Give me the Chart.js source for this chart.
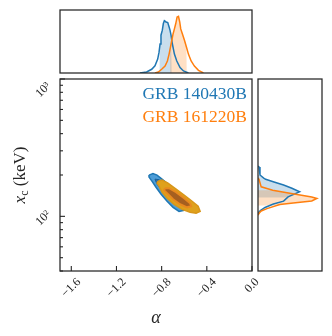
<!DOCTYPE html>
<html><head><meta charset="utf-8">
<script src="https://cdn.jsdelivr.net/npm/chart.js@4.4.0/dist/chart.umd.min.js"></script>
<style>
body{margin:0;background:#fff}
#wrap{position:relative;width:332px;height:336px}
canvas{position:absolute;left:0;top:0}
</style></head><body>
<div id="wrap">
<canvas id="top" width="332" height="336"></canvas>
<canvas id="side" width="332" height="336"></canvas>
<canvas id="main" width="332" height="336"></canvas>
</div>
<script>
// names + colours of the two bursts
const grbNames = ['GRB 140430B', 'GRB 161220B'];
const blue = '#1f77b4', orange = '#ff7f0e';

// top marginal: alpha posterior (normalised height)
const alphaBlue = [-0.992,-0.933,-0.888,-0.859,-0.835,-0.823,-0.814,-0.806,-0.794,-0.785,-0.776,-0.761,-0.746,-0.734,-0.726,-0.717,-0.705,-0.687,-0.666,-0.637,-0.607,-0.563];
const alphaBlueDens = [0,0.016,0.059,0.113,0.22,0.33,0.46,0.6,0.68,0.785,0.83,0.81,0.8,0.73,0.68,0.6,0.46,0.3,0.19,0.086,0.032,0];
const alphaOrange = [-0.859,-0.829,-0.8,-0.77,-0.749,-0.734,-0.722,-0.71,-0.699,-0.687,-0.675,-0.663,-0.651,-0.64,-0.631,-0.616,-0.598,-0.58,-0.563,-0.539,-0.51,-0.474,-0.43];
const alphaOrangeDens = [0,0.016,0.06,0.11,0.19,0.3,0.41,0.52,0.62,0.7,0.785,0.89,0.9,0.81,0.7,0.62,0.52,0.41,0.3,0.19,0.11,0.043,0];
const alphaBandBlue = [-0.82, -0.71];
const alphaBandOrange = [-0.726, -0.577];

// right marginal: xc posterior (keV)
const xcBlue = [232,229,200,190,186,178,169,160,151,144,138.5,129,123,116,110.6,107.5,104];
const xcBlueDens = [0,0.016,0.031,0.09,0.12,0.25,0.4,0.53,0.65,0.55,0.47,0.4,0.24,0.11,0.042,0.016,0];
const xcOrange = [190,185.7,164,155,146.5,138.5,134.9,129.5,125.1,121.9,113.8,109.4,105.7,102];
const xcOrangeDens = [0,0.016,0.05,0.23,0.52,0.84,0.92,0.84,0.55,0.34,0.14,0.05,0.02,0];
const xcBandBlue = [137, 200];
const xcBandOrange = [120, 155];

// joint contours
const blueOuterAlpha = [-0.912,-0.877,-0.841,-0.797,-0.744,-0.681,-0.619,-0.575,-0.566,-0.601,-0.646,-0.699,-0.752,-0.805,-0.85,-0.886,-0.912];
const blueOuterXc = [199.7,204.8,199.7,186.6,171.5,155,140,128.8,118.4,110.6,108.7,116.3,128.8,144.9,162.8,180.3,193.2];
const blueInnerAlpha = [-0.859,-0.824,-0.761,-0.699,-0.646,-0.637,-0.672,-0.734,-0.797,-0.841];
const blueInnerXc = [186.6,185,168.6,150,133.2,124.5,124.5,137.8,155,171.5];
const orangeOuterAlpha = [-0.832,-0.797,-0.744,-0.672,-0.601,-0.53,-0.477,-0.459,-0.495,-0.548,-0.619,-0.69,-0.752,-0.797,-0.823,-0.841];
const orangeOuterXc = [180.3,183.6,174.6,157.8,142.6,128.8,118.4,108.7,105.2,107,112.4,122.4,135.5,150,166,174.6];
const orangeInnerAlpha = [-0.77,-0.735,-0.672,-0.601,-0.548,-0.539,-0.575,-0.637,-0.699,-0.752,-0.779];
const orangeInnerXc = [160.4,160.4,150,135.5,124.5,118.4,116.3,122.4,133.2,147.3,155];

// ticks
const xTicks = [-1.6, -1.2, -0.8, -0.4, 0.0];
const xTickLabels = ['\u22121.6', '\u22121.2', '\u22120.8', '\u22120.4', '0.0'];
const yMajor = [100, 1000];
const yMajorLabels = ['10\u00b2', '10\u00b3'];
const yMinor = [40,50,60,70,80,90,200,300,400,500,600,700,800,900];

const serif = '"Liberation Serif", "DejaVu Serif", serif';
const ink = '#262626';

function pts(xs, ys) { return xs.map((x, i) => ({x: x, y: ys[i]})); }
function poly(xs, ys) { const p = pts(xs, ys); p.push(p[0]); return p; }

function topBand(xs, ds, lo, hi) {
  const p = [];
  xs.forEach((x, i) => { if (x >= lo && x <= hi) p.push({x: x, y: ds[i]}); });
  return [{x: lo, y: 0}, {x: lo, y: p[0].y}].concat(p, [{x: hi, y: p[p.length - 1].y}, {x: hi, y: 0}]);
}
function sideBand(ys, ds, lo, hi) {
  const p = [];
  ys.forEach((y, i) => { if (y >= lo && y <= hi) p.push({x: ds[i], y: y}); });
  return [{x: 0, y: hi}, {x: p[0].x, y: hi}].concat(p, [{x: p[p.length - 1].x, y: lo}, {x: 0, y: lo}, {x: 0, y: hi}]);
}

function frame(extra) {
  return {
    id: 'frame',
    afterDatasetsDraw(chart) {
      const a = chart.chartArea, ctx = chart.ctx;
      ctx.save();
      if (extra) extra(chart, ctx, a);
      ctx.strokeStyle = ink; ctx.lineWidth = 1.25;
      ctx.strokeRect(a.left, a.top, a.right - a.left, a.bottom - a.top);
      ctx.restore();
    }
  };
}

function seg(ctx, x1, y1, x2, y2) { ctx.beginPath(); ctx.moveTo(x1, y1); ctx.lineTo(x2, y2); ctx.stroke(); }

function rotLabel(ctx, txt, cx, cy) {
  ctx.save(); ctx.translate(cx, cy); ctx.rotate(-Math.PI / 4);
  ctx.textAlign = 'center'; ctx.textBaseline = 'middle';
  ctx.fillText(txt, 0, 0); ctx.restore();
}

function mainDecor(chart, ctx, a) {
  const xs = chart.scales.x, ys = chart.scales.y;
  ctx.strokeStyle = ink; ctx.lineWidth = 1.1;
  xTicks.forEach(v => { const px = xs.getPixelForValue(v); seg(ctx, px, a.bottom, px, a.bottom - 5); });
  yMajor.forEach(v => { const py = ys.getPixelForValue(v); seg(ctx, a.left, py, a.left + 5, py); });
  yMinor.forEach(v => { const py = ys.getPixelForValue(v); seg(ctx, a.left, py, a.left + 3, py); });

  ctx.fillStyle = ink; ctx.font = '12px ' + serif;
  xTicks.forEach((v, i) => {
    const w = ctx.measureText(xTickLabels[i]).width;
    rotLabel(ctx, xTickLabels[i], xs.getPixelForValue(v), a.bottom + 6 + (w + 9) * 0.3536);
  });
  yMajor.forEach((v, i) => {
    const w = ctx.measureText(yMajorLabels[i]).width;
    const py = Math.max(ys.getPixelForValue(v) + 2, a.top + 11);
    rotLabel(ctx, yMajorLabels[i], a.left - 8 - (w + 9) * 0.3536, py);
  });

  // legend text
  ctx.font = '17.5px ' + serif; ctx.textAlign = 'right'; ctx.textBaseline = 'alphabetic';
  ctx.fillStyle = blue; ctx.fillText(grbNames[0], a.right - 5, 98.5);
  ctx.fillStyle = orange; ctx.fillText(grbNames[1], a.right - 5, 121.5);

  // axis labels
  ctx.fillStyle = ink; ctx.textAlign = 'center'; ctx.textBaseline = 'middle';
  ctx.font = 'italic 18px ' + serif;
  ctx.fillText('\u03b1', (a.left + a.right) / 2, 318);

  ctx.save();
  ctx.translate(20, (a.top + a.bottom) / 2);
  ctx.rotate(-Math.PI / 2);
  ctx.textAlign = 'left'; ctx.textBaseline = 'alphabetic';
  const fx = 'italic 17px ' + serif, fc = '12px ' + serif, fr = '17px ' + serif;
  ctx.font = fx; const w1 = ctx.measureText('x').width;
  ctx.font = fc; const w2 = ctx.measureText('c').width;
  ctx.font = fr; const w3 = ctx.measureText(' (keV)').width;
  let x0 = -(w1 + w2 + w3) / 2;
  ctx.font = fx; ctx.fillText('x', x0, 5); x0 += w1;
  ctx.font = fc; ctx.fillText('c', x0, 8); x0 += w2;
  ctx.font = fr; ctx.fillText(' (keV)', x0, 5);
  ctx.restore();
}

const common = {
  responsive: false, animation: false, events: [],
  plugins: {legend: {display: false}, tooltip: {enabled: false}},
  elements: {point: {radius: 0}, line: {tension: 0}}
};

// top marginal (higher order = drawn underneath)
new Chart(document.getElementById('top'), {
  type: 'scatter',
  data: {datasets: [
    {data: topBand(alphaBlue, alphaBlueDens, alphaBandBlue[0], alphaBandBlue[1]), order: 4, showLine: true, fill: 'origin', borderWidth: 0, backgroundColor: 'rgba(31,119,180,0.24)'},
    {data: topBand(alphaOrange, alphaOrangeDens, alphaBandOrange[0], alphaBandOrange[1]), order: 3, showLine: true, fill: 'origin', borderWidth: 0, backgroundColor: 'rgba(255,127,14,0.24)'},
    {data: pts(alphaBlue, alphaBlueDens), order: 2, showLine: true, borderColor: blue, borderWidth: 1.5},
    {data: pts(alphaOrange, alphaOrangeDens), order: 1, showLine: true, borderColor: orange, borderWidth: 1.5}
  ]},
  options: Object.assign({}, common, {
    layout: {padding: {left: 60, right: 80, top: 10, bottom: 263}},
    scales: {x: {type: 'linear', min: -1.7, max: 0, display: false}, y: {type: 'linear', min: 0, max: 1, display: false}}
  }),
  plugins: [frame()]
});

// right marginal
new Chart(document.getElementById('side'), {
  type: 'scatter',
  data: {datasets: [
    {data: sideBand(xcBlue, xcBlueDens, xcBandBlue[0], xcBandBlue[1]), order: 4, showLine: true, fill: 'shape', borderWidth: 0, backgroundColor: 'rgba(31,119,180,0.24)'},
    {data: sideBand(xcOrange, xcOrangeDens, xcBandOrange[0], xcBandOrange[1]), order: 3, showLine: true, fill: 'shape', borderWidth: 0, backgroundColor: 'rgba(255,127,14,0.24)'},
    {data: pts(xcBlueDens, xcBlue), order: 2, showLine: true, borderColor: blue, borderWidth: 1.5},
    {data: pts(xcOrangeDens, xcOrange), order: 1, showLine: true, borderColor: orange, borderWidth: 1.5}
  ]},
  options: Object.assign({}, common, {
    layout: {padding: {left: 258, right: 10, top: 79, bottom: 65}},
    scales: {x: {type: 'linear', min: 0, max: 1, display: false}, y: {type: 'logarithmic', min: 40, max: 1000, display: false}}
  }),
  plugins: [frame()]
});

// joint panel
new Chart(document.getElementById('main'), {
  type: 'scatter',
  data: {datasets: [
    {data: poly(blueOuterAlpha, blueOuterXc), order: 4, showLine: true, fill: 'shape', backgroundColor: '#4d9dd8', borderColor: blue, borderWidth: 1.5},
    {data: poly(blueInnerAlpha, blueInnerXc), order: 3, showLine: true, fill: 'shape', backgroundColor: '#2d6fa6', borderColor: '#1d5f94', borderWidth: 1},
    {data: poly(orangeOuterAlpha, orangeOuterXc), order: 2, showLine: true, fill: 'shape', backgroundColor: '#dfa11c', borderColor: '#d8961a', borderWidth: 1.5},
    {data: poly(orangeInnerAlpha, orangeInnerXc), order: 1, showLine: true, fill: 'shape', backgroundColor: '#a65f20', borderColor: '#e8891f', borderWidth: 2}
  ]},
  options: Object.assign({}, common, {
    layout: {padding: {left: 60, right: 80, top: 79, bottom: 65}},
    scales: {x: {type: 'linear', min: -1.7, max: 0, display: false}, y: {type: 'logarithmic', min: 40, max: 1000, display: false}}
  }),
  plugins: [frame(mainDecor)]
});
</script>
</body></html>
